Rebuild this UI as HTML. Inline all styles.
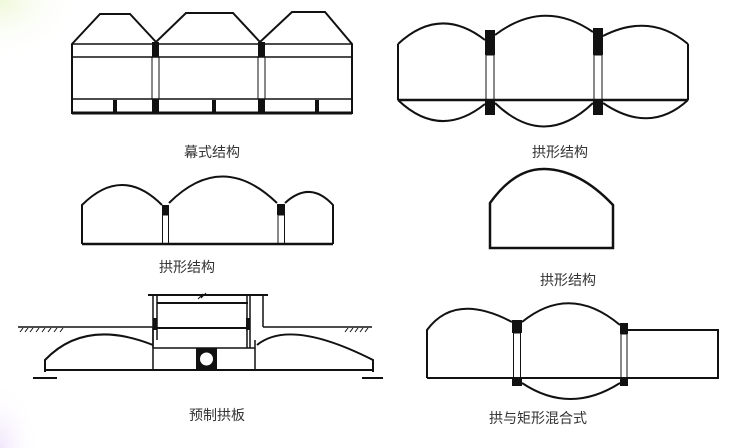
<!DOCTYPE html>
<html><head><meta charset="utf-8"><style>
html,body{margin:0;padding:0;background:#fff;}
svg{display:block;}
text{font-family:"Liberation Sans","Noto Sans CJK SC",sans-serif;font-size:14px;fill:#333;text-anchor:middle;}
</style></head><body>
<svg width="731" height="448" viewBox="0 0 731 448" xmlns="http://www.w3.org/2000/svg">
<defs>
<radialGradient id="g1" cx="0" cy="0" r="1"><stop offset="0" stop-color="#eef8d8"/><stop offset="1" stop-color="#fff" stop-opacity="0"/></radialGradient>
<radialGradient id="g2" cx="0" cy="1" r="1"><stop offset="0" stop-color="#f1e6fb"/><stop offset="1" stop-color="#fff" stop-opacity="0"/></radialGradient>
</defs>
<rect x="0" y="0" width="80" height="60" fill="url(#g1)"/>
<rect x="0" y="380" width="40" height="68" fill="url(#g2)"/>
<g fill="none" stroke="#111" stroke-width="2">
<!-- top-left -->
<path d="M72,44 L100,14 L130,14 L156,42 L186,13 L233,13 L260,42 L292,12 L325,12 L352,44 L352,113 L72,113 Z"/>
<line x1="72" y1="44" x2="352" y2="44" stroke-width="1.5"/>
<line x1="72" y1="57" x2="352" y2="57" stroke-width="1.5"/>
<line x1="72" y1="99" x2="352" y2="99" stroke-width="1.5"/>
<line x1="72" y1="113" x2="352" y2="113" stroke-width="3"/>
<rect x="152" y="57" width="7" height="42" stroke-width="1"/>
<rect x="258" y="57" width="7" height="42" stroke-width="1"/>
</g>
<g fill="#111">
<rect x="152" y="42" width="7" height="15"/><rect x="258" y="42" width="7" height="15"/>
<rect x="152" y="99" width="7" height="14"/><rect x="258" y="99" width="7" height="14"/>
<rect x="113" y="100" width="4" height="13"/><rect x="212" y="100" width="4" height="13"/><rect x="315" y="100" width="4" height="13"/>
</g>
<!-- top-right -->
<g fill="none" stroke="#111" stroke-width="2">
<path d="M398,44 Q440,5 485,40"/>
<path d="M495,35 Q544,-2 593,32"/>
<path d="M603,36 Q650,12 688,44"/>
<path d="M398,100 Q440,140 485,104"/>
<path d="M495,103 Q544,150 593,103"/>
<path d="M603,103 Q650,135 688,100"/>
<line x1="398" y1="44" x2="398" y2="100"/>
<line x1="688" y1="44" x2="688" y2="100"/>
<line x1="398" y1="100" x2="688" y2="100" stroke-width="2.5"/>
<rect x="486" y="55" width="8" height="45" stroke-width="1"/>
<rect x="594" y="55" width="8" height="45" stroke-width="1"/>
</g>
<g fill="#111">
<rect x="485" y="30" width="10" height="25"/><rect x="593" y="28" width="10" height="27"/>
<rect x="485" y="100" width="10" height="15"/><rect x="593" y="100" width="10" height="15"/>
</g>
<!-- middle-left -->
<g fill="none" stroke="#111" stroke-width="2">
<path d="M82,244 L82,205 Q122,165 162,205"/>
<path d="M169,203 Q222,150 277,203"/>
<path d="M285,203 Q310,180 333,205 L333,244"/>
<line x1="82" y1="244" x2="333" y2="244" stroke-width="2.5"/>
<rect x="162.5" y="215" width="6" height="29" stroke-width="1"/>
<rect x="278" y="215" width="6.5" height="29" stroke-width="1"/>
</g>
<g fill="#111"><rect x="162" y="205" width="7" height="10"/><rect x="277" y="204" width="8" height="11"/></g>
<!-- middle-right -->
<path d="M490,248 L490,203 Q515,168 545,169 Q580,170 613,205 L613,248 Z" fill="none" stroke="#111" stroke-width="2.5"/>
<!-- bottom-left -->
<g fill="none" stroke="#111" stroke-width="1.5">
<line x1="148" y1="295" x2="268" y2="295" stroke-width="2"/>
<path d="M198,299 L203,294 L201,298 L206,293" stroke-width="1"/>
<line x1="153" y1="295" x2="153" y2="348"/><line x1="157" y1="295" x2="157" y2="340"/>
<line x1="157" y1="303" x2="248" y2="303" stroke-width="2"/>
<line x1="157" y1="328" x2="250" y2="328" stroke-width="2"/>
<line x1="247" y1="295" x2="247" y2="348"/><line x1="250" y1="295" x2="250" y2="348"/>
<line x1="263" y1="295" x2="263" y2="327"/>
<line x1="263" y1="327" x2="372" y2="327"/>
<line x1="18" y1="327" x2="153" y2="327"/>
<line x1="153" y1="348" x2="255" y2="348"/>
<line x1="153" y1="328" x2="153" y2="370"/><line x1="255" y1="340" x2="255" y2="370"/>
<path d="M45,372 L45,360 Q85,318 153,345" stroke-width="2"/>
<path d="M257,345 Q290,318 373,360 L373,372" stroke-width="2"/>
<line x1="45" y1="370" x2="373" y2="370" stroke-width="2"/>
<line x1="33" y1="378" x2="57" y2="378" stroke-width="2"/>
<line x1="362" y1="378" x2="383" y2="378" stroke-width="2"/>
<path d="M20,332 l3,-4 M25,332 l3,-4 M30,332 l3,-4 M36,332 l3,-4 M42,332 l3,-4 M48,332 l3,-4 M54,332 l3,-4 M60,332 l3,-4" stroke-width="1"/>
<path d="M345,332 l3,-4 M350,332 l3,-4 M355,332 l3,-4 M360,332 l3,-4 M365,332 l3,-4" stroke-width="1"/>
</g>
<g fill="#111"><rect x="153" y="318" width="4" height="12"/><rect x="246" y="318" width="4" height="12"/></g>
<rect x="196" y="348" width="21" height="22" fill="#111"/>
<circle cx="206.5" cy="359" r="7" fill="#fff" stroke="#111" stroke-width="1"/>
<!-- bottom-right -->
<g fill="none" stroke="#111" stroke-width="2">
<path d="M427,378 L427,330 Q455,292 512,322"/>
<path d="M522,322 Q570,283 620,325"/>
<path d="M522,383 Q570,415 620,383"/>
<path d="M628,330 L718,330 L718,378 L427,378"/>
<rect x="513.5" y="333" width="7" height="47" stroke-width="1"/>
<rect x="621" y="334" width="6" height="46" stroke-width="1"/>
</g>
<g fill="#111">
<rect x="512" y="320" width="10" height="13"/><rect x="620" y="323" width="8" height="11"/>
<rect x="512" y="379" width="10" height="7"/><rect x="620" y="379" width="8" height="7"/>
</g>
<!-- labels -->
<text x="212" y="157">幕式结构</text>
<text x="560" y="157">拱形结构</text>
<text x="187" y="272">拱形结构</text>
<text x="568" y="285">拱形结构</text>
<text x="217" y="420">预制拱板</text>
<text x="538" y="423">拱与矩形混合式</text>
</svg>
</body></html>
